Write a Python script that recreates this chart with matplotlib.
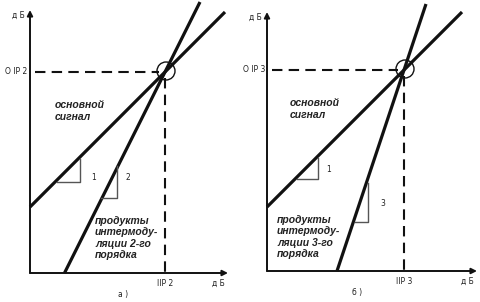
import matplotlib.pyplot as plt
from matplotlib.patches import Circle

# Panel data (units: dB-ish, origin at axes corner)
panel_names = ["а )", "б )"]
orders = [2, 3]
iip = [135, 137]          # input intercept point
oip = [201, 201]          # output intercept point
slopes = [[1, 2], [1, 3]]  # fundamental, intermod
top_y = [[261, 271], [259, 267]]   # where each line stops at the top
x_axis_len = [198, 210]
y_axis_len = [263, 259]
oip_labels = ["О IP 2", "О IP 3"]
iip_labels = ["IIP 2", "IIP 3"]
# slope triangles: (x0, x1, y_base) per line
tri1 = [(27, 50, 91), (30, 51, 92)]
tri2 = [(71, 87, 75), (88, 101, 49)]
tri_num_pos = [[(64, 95), (98, 95)], [(62, 102), (116, 67)]]
tri_nums = [["1", "2"], ["1", "3"]]

fig = plt.figure(figsize=(4.8, 3.02), dpi=100)
small = dict(family=["Liberation Sans Narrow", "DejaVu Sans"], fontsize=5.5, color="#222222")
big = dict(family=["Liberation Sans", "DejaVu Sans"], fontsize=7.5, style="italic",
           weight="bold", color="#222222")

limits = [((-30, 210), (-29, 273)), ((-27, 213), (-31, 271))]

for i in range(2):
    ax = fig.add_axes([0.5 * i, 0, 0.5, 1])
    ax.set_xlim(*limits[i][0])
    ax.set_ylim(*limits[i][1])
    ax.axis("off")

    # axes with arrows
    ax.annotate("", xy=(0, y_axis_len[i]), xytext=(0, 0),
                arrowprops=dict(arrowstyle="-|>", lw=1.4, color="#111111",
                                mutation_scale=8, shrinkA=0, shrinkB=0))
    ax.annotate("", xy=(x_axis_len[i], 0), xytext=(0, 0),
                arrowprops=dict(arrowstyle="-|>", lw=1.4, color="#111111",
                                mutation_scale=8, shrinkA=0, shrinkB=0))

    # response lines through the intercept point
    for k, s in enumerate(slopes[i]):
        y_bot = max(0, oip[i] - s * iip[i])
        x0 = iip[i] + (y_bot - oip[i]) / s
        x1 = iip[i] + (top_y[i][k] - oip[i]) / s
        ax.plot([x0, x1], [y_bot, top_y[i][k]], color="#111111", lw=2.3,
                solid_capstyle="butt")

    # dashed projections
    ax.plot([5, iip[i] - 6], [oip[i], oip[i]], color="#111111", lw=1.5,
            linestyle=(0, (5, 3)))
    ax.plot([iip[i], iip[i]], [oip[i] - 6, 0], color="#111111", lw=1.5,
            linestyle=(0, (5, 3)))
    ax.add_patch(Circle((iip[i] + 1, oip[i] + 1), 9, fill=False, lw=1.0,
                        color="#111111"))

    # slope triangles
    for k, (xa, xb, yb) in enumerate([tri1[i], tri2[i]]):
        s = slopes[i][k]
        ytop = yb + s * (xb - xa)
        ax.plot([xa, xb, xb], [yb, yb, ytop], color="#555555", lw=1.0)
        nx, ny = tri_num_pos[i][k]
        ax.text(nx, ny, tri_nums[i][k], ha="center", va="center", **small)

    ax.text(-12, y_axis_len[i] - 5, "д Б", ha="center", va="center", **small)
    ax.text(-3 if i == 0 else -2, oip[i], oip_labels[i], ha="right", va="center", **small)
    ax.text(iip[i], -10, iip_labels[i], ha="center", va="center", **small)
    ax.text(x_axis_len[i] - 10, -10, "д Б", ha="center", va="center", **small)
    ax.text(93 if i == 0 else 90, -22, panel_names[i], ha="center", va="center", **small)

    ax.text(25 if i == 0 else 23, 162, "основной\nсигнал", ha="left", va="center",
            linespacing=1.15, **big)
    ax.text(65 if i == 0 else 10, 35 if i == 0 else 34,
            "продукты\nинтермоду-\nляции %d-го\nпорядка" % orders[i],
            ha="left", va="center", linespacing=1.15, **big)

fig.savefig("out.png", dpi=100)
